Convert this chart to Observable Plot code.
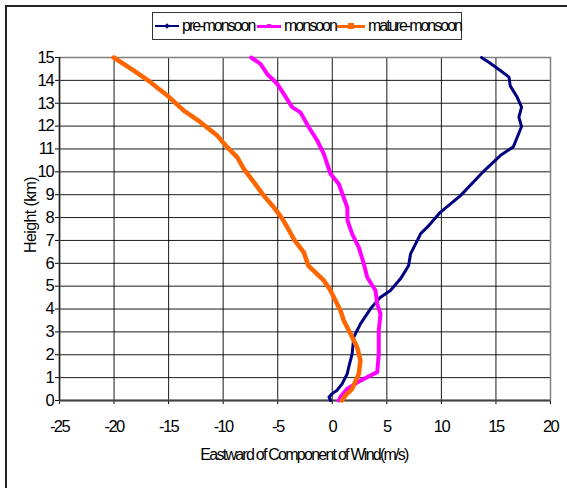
<!DOCTYPE html>
<html><head><meta charset="utf-8">
<script src="https://cdn.jsdelivr.net/npm/d3@7"></script>
<script src="https://cdn.jsdelivr.net/npm/@observablehq/plot@0.6"></script>
<style>
body{margin:0;background:#fff;font-family:"Liberation Sans",Arial,sans-serif;}
#wrap{position:relative;width:567px;height:488px;overflow:hidden;background:#fff;}
#frame{position:absolute;left:5px;top:5px;width:700px;height:700px;border-left:2px solid #222;border-top:2px solid #222;}
#chart{position:absolute;left:0;top:0;}
#legend{position:absolute;left:152px;top:12px;width:308px;height:26px;border:1.5px solid #333;background:#fff;}
.item{position:absolute;top:0;height:26px;display:flex;align-items:center;font-size:16px;letter-spacing:-2px;color:#000;white-space:nowrap;}
.sw{position:relative;display:inline-block;margin-right:3px;}
.sw .ln{position:absolute;left:0;right:0;}
.sw .mk{position:absolute;}
#xtitle{position:absolute;left:304px;top:446px;transform:translateX(-50%);font-size:16px;letter-spacing:-1.75px;white-space:nowrap;color:#000;}
#ytitle{position:absolute;left:31px;top:215px;transform:translate(-50%,-50%) rotate(-90deg);font-size:16px;letter-spacing:-0.6px;white-space:nowrap;color:#000;}
g[aria-label="x-axis tick label"] text{letter-spacing:-1.6px;}
g[aria-label="y-axis tick label"] text{letter-spacing:-1.2px;}
</style>
</head><body>
<div id="wrap">
  <div id="chart"></div>
  <div id="frame"></div>
  <div id="legend"></div>
  <div id="xtitle"></div>
  <div id="ytitle"></div>
</div>
<script>
// ---- data ----
const seriesNames = ["pre-monsoon", "monsoon", "mature-monsoon"];
const seriesColors = ["#000080", "#FF00FF", "#FF6600"];

const preHeight = [0, 0.15, 0.3, 0.45, 0.73, 1.17, 1.46, 2.04, 2.77, 3.35, 4.01, 4.52, 4.81, 5.32, 5.9, 6.41, 7.0, 7.3, 7.65, 8.23, 8.96, 9.94, 10.71, 11.1, 11.51, 11.98, 12.39, 12.83, 13.26, 13.77, 14.14, 14.43, 14.79, 15];
const preWind   = [-0.15, -0.3, 0.0, 0.45, 0.9, 1.37, 1.51, 1.82, 1.97, 2.58, 3.5, 4.42, 5.33, 6.25, 7.0, 7.17, 7.8, 8.1, 8.85, 9.9, 11.75, 13.7, 15.4, 16.6, 16.95, 17.35, 17.1, 17.35, 16.95, 16.3, 16.2, 15.4, 14.35, 13.67];

const monHeight = [0, 0.15, 0.51, 0.87, 1.09, 1.24, 2.04, 3.06, 3.79, 4.23, 4.81, 5.39, 5.98, 6.7, 7.29, 7.87, 8.45, 9.47, 9.91, 10.79, 11.37, 11.95, 12.6, 12.83, 13.41, 13.85, 14.28, 14.72, 15];
const monWind   = [0.6, 0.75, 1.37, 2.58, 3.5, 4.12, 4.26, 4.26, 4.42, 4.12, 3.96, 3.2, 2.89, 2.43, 1.82, 1.4, 1.37, 0.6, -0.16, -0.78, -1.38, -2.15, -2.92, -3.68, -4.45, -5.05, -5.97, -6.58, -7.43];

const matHeight = [0, 0.22, 0.51, 1.17, 1.75, 2.33, 2.92, 3.5, 3.94, 4.52, 4.81, 5.25, 5.9, 6.48, 7.0, 7.58, 7.95, 8.16, 8.45, 8.96, 9.55, 10.13, 10.64, 11.08, 11.59, 12.17, 12.68, 13.34, 13.92, 14.43, 15];
const matWind   = [0.9, 1.21, 1.82, 2.43, 2.58, 2.28, 1.67, 1.05, 0.75, 0.14, -0.16, -0.78, -2.2, -2.61, -3.45, -4.13, -4.59, -4.9, -5.36, -6.28, -7.19, -8.11, -8.72, -9.63, -10.55, -12.08, -13.61, -15.13, -16.66, -18.19, -20.03];

const xTicks = [-25, -20, -15, -10, -5, 0, 5, 10, 15, 20];
const yTicks = [0, 1, 2, 3, 4, 5, 6, 7, 8, 9, 10, 11, 12, 13, 14, 15];
const xTitle = "Eastward of Component of Wind(m/s)";
const yTitle = "Height (km)";

// ---- build ----
const toRows = (hs, ws, s) => hs.map((h, i) => ({h, u: ws[i], s}));
const rows = [
  toRows(preHeight, preWind, seriesNames[0]),
  toRows(monHeight, monWind, seriesNames[1]),
  toRows(matHeight, matWind, seriesNames[2])
];
const widths = [3, 4, 4.5];

const chart = Plot.plot({
  width: 567,
  height: 488,
  marginLeft: 59,
  marginRight: 17,
  marginTop: 57,
  marginBottom: 88,
  style: {fontFamily: '"Liberation Sans", Arial, sans-serif', fontSize: "16.5px", color: "#000", background: "transparent"},
  x: {domain: [-25, 20], ticks: xTicks, tickFormat: d => String(d), tickSize: 4, tickPadding: 16, label: null},
  y: {domain: [0, 15], ticks: yTicks, tickFormat: d => String(d), tickSize: 4, tickPadding: 2, label: null},
  marks: [
    Plot.gridX(xTicks, {stroke: "#000", strokeOpacity: 0.9, strokeWidth: 1}),
    Plot.gridY(yTicks, {stroke: "#000", strokeOpacity: 0.9, strokeWidth: 1}),
    Plot.frame({stroke: "#808080", strokeWidth: 1.5}),
    Plot.ruleX([-25], {stroke: "#222", strokeWidth: 1.5}),
    Plot.ruleY([0], {stroke: "#444", strokeWidth: 2}),
    ...rows.map((r, i) => Plot.line(r, {x: "u", y: "h", stroke: seriesColors[i], strokeWidth: widths[i], strokeLinejoin: "round", strokeLinecap: "round"}))
  ]
});
document.getElementById("chart").appendChild(chart);

document.getElementById("xtitle").textContent = xTitle;
document.getElementById("ytitle").textContent = yTitle;

// legend
const legend = document.getElementById("legend");
const itemPos = [{left: 2, sw: 24}, {left: 104, sw: 24}, {left: 184, sw: 28}];
const markers = ["diamond", "square", "tri"];
seriesNames.forEach((name, i) => {
  const it = document.createElement("div");
  it.className = "item";
  it.style.left = itemPos[i].left + "px";
  const sw = document.createElement("span");
  sw.className = "sw";
  sw.style.width = itemPos[i].sw + "px";
  sw.style.height = "26px";
  const ln = document.createElement("span");
  ln.className = "ln";
  const lw = i === 0 ? 2 : 3;
  ln.style.top = (13 - lw / 2) + "px";
  ln.style.height = lw + "px";
  ln.style.background = seriesColors[i];
  sw.appendChild(ln);
  const mk = document.createElement("span");
  mk.className = "mk";
  const ms = i === 2 ? 6 : 4;
  mk.style.width = ms + "px";
  mk.style.height = ms + "px";
  mk.style.left = (itemPos[i].sw / 2 - ms / 2) + "px";
  mk.style.top = (13 - ms / 2) + "px";
  mk.style.background = seriesColors[i];
  if (markers[i] === "diamond") mk.style.transform = "rotate(45deg)";
  sw.appendChild(mk);
  it.appendChild(sw);
  const tx = document.createElement("span");
  tx.textContent = name;
  it.appendChild(tx);
  legend.appendChild(it);
});
</script>
</body></html>
